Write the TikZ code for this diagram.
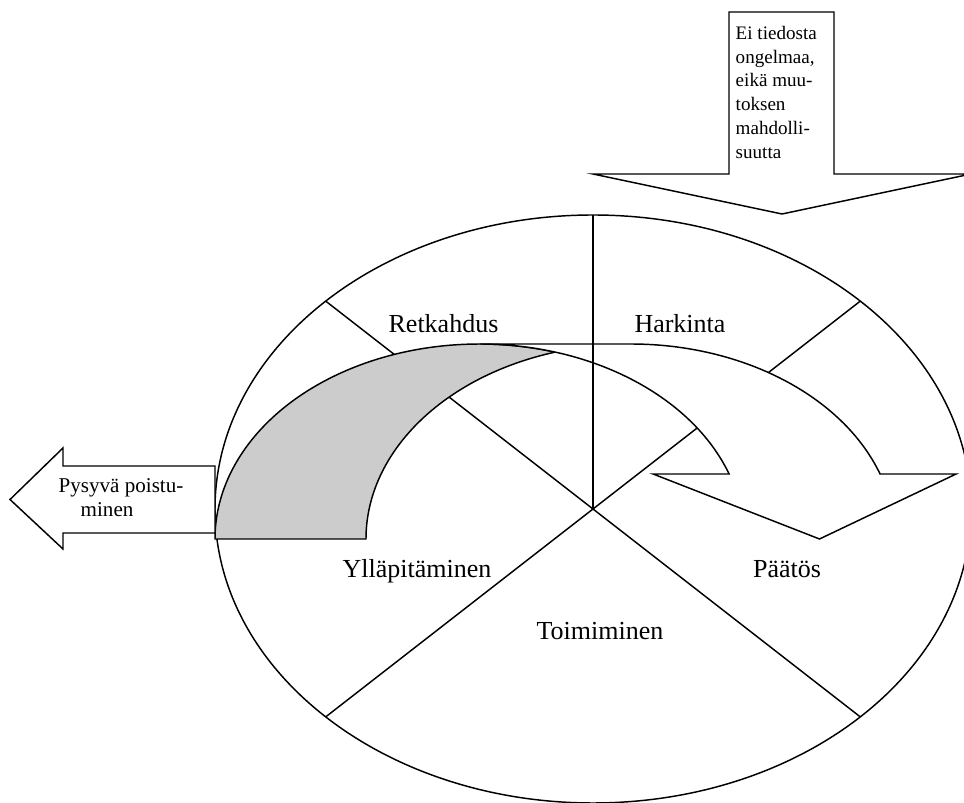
\documentclass[tikz,border=0pt]{standalone}
\usepackage{fontspec}
\setmainfont{Liberation Serif}
\usetikzlibrary{calc}
\begin{document}
\begin{tikzpicture}[x=0.75pt, y=0.75pt, line width=1.1pt, line join=miter,
  stage/.style={font=\fontsize{19.5}{23}\selectfont, inner sep=0pt, anchor=base},
  smalltext/.style={font=\fontsize{14.3}{17.8}\selectfont, inner sep=0pt, align=left, anchor=north west},
  exittext/.style={font=\fontsize{15.8}{18.3}\selectfont, inner sep=0pt, align=left, anchor=north west},
  band/.style={draw=black, fill=white},
  backside/.style={draw=black, fill=black!20},
  ]
\useasboundingbox (0,0) rectangle (964,803);

% the wheel of change
\coordinate (c) at (593,294);
\draw (c) ellipse [x radius=378, y radius=294];
\coordinate (ul) at ($(c)+(135:378 and 294)$);
\coordinate (lr) at ($(c)+(315:378 and 294)$);
\coordinate (ur) at ($(c)+(45:378 and 294)$);
\coordinate (ll) at ($(c)+(225:378 and 294)$);
\coordinate (top) at ($(c)+(90:378 and 294)$);
\draw (ul) -- (lr);
\draw (ur) -- (ll);

% curved arrow: shaded back side of the ribbon
\draw[backside] (215,264)
  arc[start angle=180, end angle=73.42, x radius=264.6, y radius=195]
  arc[start angle=106.58, end angle=180, x radius=264.6, y radius=195]
  -- cycle;

% curved arrow: front side with the head
\draw[band] (819.5,264) -- (653.1,329) -- (729.1,329)
  arc[start angle=19.47, end angle=90, x radius=264.6, y radius=195]
  -- (630.6,459)
  arc[start angle=90, end angle=19.47, x radius=264.6, y radius=195]
  -- (956.1,329) -- cycle;

\draw (top) -- (c);

% exit arrow to the left
\draw[band] (215,337) -- (63,337) -- (63,355) -- (10,303.5) -- (63,254)
  -- (63,270) -- (215,270) -- cycle;

% entry arrow from above
\draw[band] (729,791) -- (834,791) -- (834,629) -- (971,629) -- (782,589)
  -- (593,629) -- (729,629) -- cycle;

% texts
\node[smalltext] (entry) at (735,777.5)
  {Ei tiedosta\\ongelmaa,\\eikä muu-\\toksen\\mahdolli-\\suutta};
\node[exittext] (exit) at (58,325.5)
  {Pysyvä poistu-\\\hspace*{16.5pt}minen};

\node[stage] (relapse) at (443.5,470) {Retkahdus};
\node[stage] (contemplation) at (680,470) {Harkinta};
\node[stage] (maintenance) at (417,225) {Ylläpitäminen};
\node[stage] (decision) at (787,225) {Päätös};
\node[stage] (action) at (600,163) {Toimiminen};
\end{tikzpicture}
\end{document}
